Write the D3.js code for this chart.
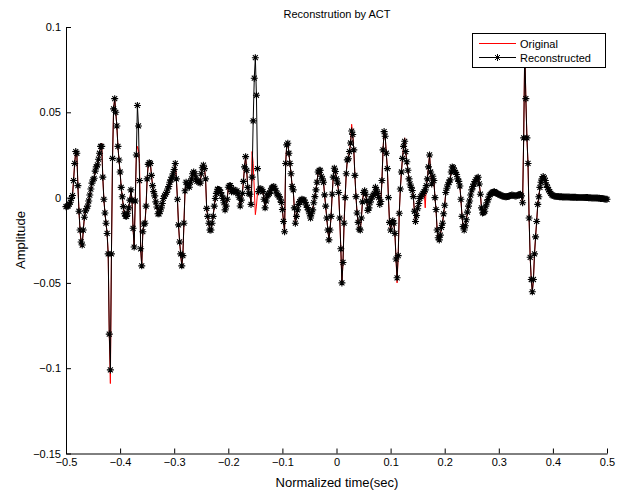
<!DOCTYPE html>
<html>
<head>
<meta charset="utf-8">
<script src="https://cdn.jsdelivr.net/npm/d3@7"></script>
<style>
  body { margin: 0; background: #fff; }
  svg { display: block; font-family: "Liberation Sans", Arial, sans-serif; }
</style>
</head>
<body>
<div id="container"></div>
<script>
// samples on a uniform grid starting at T_START, spaced T_STEP apart
const T_START = -0.5;
const T_STEP = 0.002;

const reconstructed = [
  -0.0053, -0.0051, -0.0049, -0.0038, -0.0027, -0.0005, 0.0012, 0.0100, 0.0200, 0.0270,
  0.0260, 0.0070, -0.0080, -0.0190, -0.0260, -0.0278, -0.0190, -0.0115, -0.0078, -0.0065,
  -0.0050, -0.0020, 0.0015, 0.0050, 0.0085, 0.0105, 0.0113, 0.0155, 0.0180, 0.0192,
  0.0225, 0.0260, 0.0300, 0.0300, 0.0120, -0.0010, -0.0090, -0.0150, -0.0210, -0.0330,
  -0.0800, -0.1010, -0.0330, 0.0230, 0.0520, 0.0580, 0.0500, 0.0420, 0.0300, 0.0220,
  0.0150, 0.0060, 0.0005, -0.0053, -0.0095, -0.0108, -0.0110, -0.0092, -0.0060, -0.0015,
  0.0045, -0.0014, -0.0180, -0.0290, -0.0020, 0.0250, 0.0540, 0.0420, 0.0100, -0.0300,
  -0.0400, -0.0200, -0.0155, -0.0150, -0.0050, 0.0110, 0.0195, 0.0205, 0.0200, 0.0130,
  0.0070, 0.0035, 0.0010, -0.0025, -0.0055, -0.0095, -0.0095, -0.0080, -0.0060, -0.0035,
  -0.0005, 0.0010, 0.0020, 0.0030, 0.0050, 0.0065, 0.0090, 0.0105, 0.0120, 0.0140,
  0.0165, 0.0200, 0.0110, -0.0010, -0.0160, -0.0260, -0.0330, -0.0400, -0.0340, -0.0150,
  0.0040, 0.0090, 0.0080, 0.0068, 0.0061, 0.0090, 0.0110, 0.0140, 0.0150, 0.0140,
  0.0115, 0.0095, 0.0100, 0.0092, 0.0085, 0.0140, 0.0175, 0.0190, 0.0170, 0.0110,
  -0.0063, -0.0110, -0.0150, -0.0190, -0.0190, -0.0150, -0.0110, -0.0050, -0.0005, 0.0025,
  0.0049, 0.0047, 0.0045, 0.0030, 0.0014, -0.0005, -0.0030, -0.0072, -0.0050, -0.0010,
  0.0061, 0.0070, 0.0070, 0.0035, 0.0040, 0.0048, 0.0038, 0.0029, 0.0040, 0.0025,
  0.0002, -0.0049, -0.0015, 0.0025, 0.0095, 0.0180, 0.0240, 0.0160, 0.0060, 0.0025,
  0.0020, -0.0040, 0.0120, 0.0450, 0.0700, 0.0820, 0.0600, 0.0170, 0.0035, 0.0050,
  0.0052, 0.0045, 0.0035, -0.0010, -0.0060, -0.0020, 0.0010, 0.0018, 0.0025, 0.0040,
  0.0055, 0.0060, 0.0065, 0.0055, 0.0040, 0.0022, 0.0015, 0.0006, -0.0010, -0.0028,
  -0.0070, -0.0140, -0.0200, 0.0200, 0.0309, 0.0319, 0.0260, 0.0200, 0.0140, 0.0065,
  0.0045, -0.0060, -0.0150, -0.0110, -0.0072, -0.0040, -0.0023, -0.0015, -0.0010, -0.0012,
  -0.0014, -0.0028, -0.0043, -0.0058, -0.0072, -0.0095, -0.0120, -0.0095, -0.0072, -0.0030,
  0.0006, 0.0045, 0.0090, 0.0150, 0.0160, 0.0160, 0.0125, 0.0110, 0.0090, 0.0016,
  -0.0050, -0.0120, -0.0190, -0.0248, -0.0190, -0.0110, 0.0020, 0.0120, 0.0172, 0.0153,
  0.0110, 0.0085, 0.0030, -0.0120, -0.0300, -0.0500, -0.0380, -0.0150, 0.0000, 0.0140,
  0.0221, 0.0228, 0.0270, 0.0320, 0.0390, 0.0370, 0.0280, 0.0130, 0.0006, -0.0090,
  -0.0145, -0.0185, -0.0190, -0.0120, -0.0025, 0.0030, 0.0040, 0.0020, -0.0020, -0.0075,
  -0.0060, -0.0030, -0.0010, 0.0006, 0.0015, 0.0025, 0.0060, 0.0045, 0.0025, 0.0000,
  -0.0040, -0.0023, 0.0100, 0.0280, 0.0387, 0.0360, 0.0260, 0.0170, 0.0000, -0.0145,
  -0.0190, -0.0150, -0.0135, -0.0150, -0.0210, -0.0360, -0.0470, -0.0340, -0.0092, 0.0050,
  0.0150, 0.0230, 0.0300, 0.0330, 0.0270, 0.0210, 0.0160, 0.0110, 0.0080, 0.0060,
  0.0042, 0.0006, -0.0080, -0.0140, -0.0105, -0.0065, -0.0035, -0.0005, 0.0006, 0.0015,
  0.0025, 0.0035, 0.0045, 0.0070, 0.0110, 0.0180, 0.0250, 0.0150, 0.0080, 0.0125,
  0.0100, 0.0000, -0.0070, -0.0190, -0.0235, -0.0248, -0.0220, -0.0175, -0.0150, -0.0095,
  -0.0045, 0.0030, 0.0055, 0.0075, 0.0090, 0.0104, 0.0150, 0.0180, 0.0175, 0.0158,
  0.0148, 0.0135, 0.0110, 0.0095, 0.0068, -0.0010, -0.0110, -0.0170, -0.0190, -0.0165,
  -0.0130, -0.0085, -0.0050, -0.0020, 0.0015, 0.0045, 0.0065, 0.0080, 0.0094, 0.0105,
  0.0115, 0.0119, 0.0080, 0.0020, -0.0060, -0.0090, -0.0088, -0.0080, -0.0050, -0.0030,
  -0.0012, 0.0008, 0.0018, 0.0025, 0.0030, 0.0033, 0.0035, 0.0030, 0.0025, 0.0022,
  0.0020, 0.0016, 0.0013, 0.0010, 0.0008, 0.0006, 0.0005, 0.0005, 0.0006, 0.0008,
  0.0010, 0.0012, 0.0015, 0.0014, 0.0012, 0.0010, 0.0010, 0.0012, 0.0015, 0.0018,
  0.0020, 0.0010, -0.0030, 0.0350, 0.0880, 0.0580, 0.0350, 0.0200, -0.0120, -0.0350,
  -0.0480, -0.0552, -0.0480, -0.0330, -0.0230, -0.0140, -0.0040, 0.0005, 0.0060, 0.0090,
  0.0110, 0.0123, 0.0115, 0.0100, 0.0075, 0.0060, 0.0045, 0.0035, 0.0025, 0.0016,
  0.0012, 0.0010, 0.0008, 0.0006, 0.0006, 0.0006, 0.0005, 0.0005, 0.0005, 0.0004,
  0.0004, 0.0004, 0.0003, 0.0003, 0.0003, 0.0003, 0.0002, 0.0002, 0.0002, 0.0002,
  0.0002, 0.0002, 0.0001, 0.0001, 0.0001, 0.0001, 0.0001, 0.0000, 0.0000, 0.0000,
  0.0000, 0.0000, 0.0000, -0.0001, -0.0001, -0.0001, -0.0002, -0.0002, -0.0002, -0.0002,
  -0.0003, -0.0003, -0.0004, -0.0004, -0.0005, -0.0005, -0.0006, -0.0007, -0.0008, -0.0009,
  -0.0010
];

// where the original differs from the reconstruction: [sample index, value]
const originalEdits = [
  [14, -0.029], [33, 0.032], [41, -0.109], [66, 0.030], [67, 0.028], [68, 0.020],
  [172, 0.027], [173, 0.020], [174, 0.005], [175, -0.010], [176, -0.005], [177, 0.003],
  [264, 0.043], [306, -0.050], [313, 0.035], [332, -0.006]
];

const xTicks = [-0.5, -0.4, -0.3, -0.2, -0.1, 0, 0.1, 0.2, 0.3, 0.4, 0.5];
const xTickLabels = ['\u22120.5', '\u22120.4', '\u22120.3', '\u22120.2', '\u22120.1', '0', '0.1', '0.2', '0.3', '0.4', '0.5'];
const yTicks = [-0.15, -0.1, -0.05, 0, 0.05, 0.1];
const yTickLabels = ['\u22120.15', '\u22120.1', '\u22120.05', '0', '0.05', '0.1'];

const reconData = reconstructed.map((v, i) => ({ t: T_START + i * T_STEP, v }));
const origValues = reconstructed.slice();
originalEdits.forEach(([i, v]) => { origValues[i] = v; });
const origData = origValues.map((v, i) => ({ t: T_START + i * T_STEP, v }));

const width = 617, height = 493;
const svg = d3.select('#container').append('svg')
  .attr('width', width)
  .attr('height', height);

const x = d3.scaleLinear().domain([-0.5, 0.5]).range([66, 607]);
const y = d3.scaleLinear().domain([-0.15, 0.1]).range([453.5, 27]);

svg.append('text')
  .attr('x', 337).attr('y', 18)
  .attr('text-anchor', 'middle')
  .attr('font-size', 11)
  .text('Reconstrution by ACT');

const line = d3.line().x(d => x(d.t)).y(d => y(d.v));

svg.append('path')
  .datum(origData)
  .attr('fill', 'none')
  .attr('stroke', '#ff0000')
  .attr('stroke-width', 1)
  .attr('d', line);

svg.append('path')
  .datum(reconData)
  .attr('fill', 'none')
  .attr('stroke', '#000')
  .attr('stroke-width', 1)
  .attr('d', line);

const star = 'M-3.5,0H3.5M0,-3.5V3.5M-2.5,-2.5L2.5,2.5M-2.5,2.5L2.5,-2.5';

svg.append('g')
  .selectAll('path')
  .data(reconData)
  .join('path')
    .attr('transform', d => `translate(${x(d.t)},${y(d.v)})`)
    .attr('d', star)
    .attr('fill', 'none')
    .attr('stroke', '#000')
    .attr('stroke-width', 1.1);

const xAxis = d3.axisBottom(x)
  .tickValues(xTicks)
  .tickFormat((d, i) => xTickLabels[i])
  .tickSize(-5)
  .tickSizeOuter(0)
  .tickPadding(5);

const yAxis = d3.axisLeft(y)
  .tickValues(yTicks)
  .tickFormat((d, i) => yTickLabels[i])
  .tickSize(-5)
  .tickSizeOuter(0)
  .tickPadding(5);

svg.append('g')
  .attr('transform', 'translate(0,453.5)')
  .call(xAxis)
  .call(g => g.selectAll('text').attr('font-size', 11).attr('fill', '#000').style('font-family', '"Liberation Sans", Arial, sans-serif'))
  .call(g => g.selectAll('line, path').attr('stroke', '#000'));

svg.append('g')
  .attr('transform', 'translate(66,0)')
  .call(yAxis)
  .call(g => g.selectAll('text').attr('font-size', 11).attr('fill', '#000').style('font-family', '"Liberation Sans", Arial, sans-serif'))
  .call(g => g.selectAll('line, path').attr('stroke', '#000'));

svg.append('text')
  .attr('x', 337).attr('y', 487)
  .attr('text-anchor', 'middle')
  .attr('font-size', 13)
  .text('Normalized time(sec)');

svg.append('text')
  .attr('transform', 'translate(25,240) rotate(-90)')
  .attr('text-anchor', 'middle')
  .attr('font-size', 13)
  .text('Amplitude');

// legend
const legend = svg.append('g');
legend.append('rect')
  .attr('x', 472.5).attr('y', 33.5)
  .attr('width', 133).attr('height', 34)
  .attr('fill', '#fff')
  .attr('stroke', '#000')
  .attr('stroke-width', 1);

legend.append('line')
  .attr('x1', 479).attr('x2', 516).attr('y1', 43.5).attr('y2', 43.5)
  .attr('stroke', '#ff0000');
legend.append('text')
  .attr('x', 520).attr('y', 47.5)
  .attr('font-size', 11)
  .text('Original');

legend.append('line')
  .attr('x1', 479).attr('x2', 516).attr('y1', 57.5).attr('y2', 57.5)
  .attr('stroke', '#000');
legend.append('path')
  .attr('transform', 'translate(497.5,57.5)')
  .attr('d', star)
  .attr('fill', 'none')
  .attr('stroke', '#000');
legend.append('text')
  .attr('x', 520).attr('y', 61.5)
  .attr('font-size', 11)
  .text('Reconstructed');
</script>
</body>
</html>
